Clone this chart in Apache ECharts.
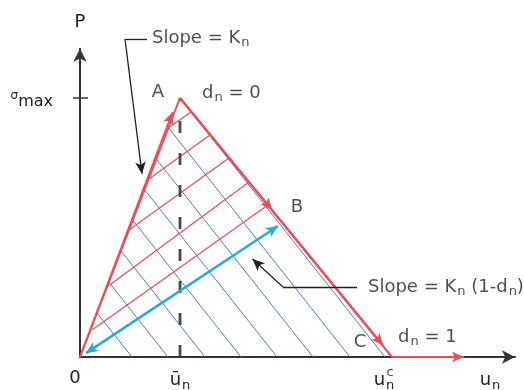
<!DOCTYPE html>
<html>
<head>
<meta charset="utf-8">
<script src="https://cdn.jsdelivr.net/npm/echarts@6/dist/echarts.min.js"></script>
<style>
html,body{margin:0;padding:0;background:#fff;}
#main{width:524px;height:390px;}
</style>
</head>
<body>
<div id="main"></div>
<script>
// traction-separation law (sigma_max = 1, u_n bar = 1)
var peakA = [1.0, 1.0];
var redEnd = [3.12, 0];
var pointB = [1.92, 0.568];
var failEnd = [3.84, 0];
var loadArrowTip = [0.925, 0.945];
var softenArrowTip = [3.03, 0.045];
var unloadStart = [1.98, 0.506];
var unloadEnd = [0.06, 0.015];

// blue hatch (parallel to softening branch): foot on the u axis, top on loading branch
var blueFoot = [0.52, 0.88, 1.25, 1.61, 1.97, 2.33, 2.70, 3.05];
var blueTop = [0.170, 0.289, 0.410, 0.528, 0.646, 0.764, 0.885, 1.0];

// red hatch (unloading lines): left end on loading branch, right end on softening branch
var redLeft = [[0.88, 0.884], [0.69, 0.687], [0.49, 0.49], [0.27, 0.27], [0.12, 0.104]];
var redRight = [[1.11, 0.946], [1.30, 0.857], [1.49, 0.768], [1.69, 0.676], [1.88, 0.587]];

// leaders for the two slope notes
var leader1 = [[0.67, 1.228], [0.45, 1.228], [0.62, 0.707]];
var leader2 = [[2.77, 0.27], [2.03, 0.27], [1.725, 0.378]];

var sigmaTick = [[-0.07, 1], [0.08, 1]];

var xTickValues = [0, 1, 3.04, 4.1];
var xTickLabels = ['{z|0}', '{i|ū}{s|n}', '{i|u}{s|n}', '{i|u}{s|n}'];

var noteText = ['{i|A}', '{i|d}{s|n}{i| = 0}', '{i|Slope = K}{s|n}', '{i|B}',
  '{i|Slope = K}{s|n}{i| (1-d}{s|n}{i|)}', '{i|C}', '{i|d}{s|n}{i| = 1}', '{c|c}'];
var notePos = [[0.78, 1.023], [1.22, 1.02], [0.72, 1.232], [2.17, 0.579],
  [2.88, 0.27], [2.80, 0.058], [3.18, 0.077], [3.10, -0.062]];
var noteAlign = ['center', 'left', 'left', 'center', 'left', 'center', 'left', 'center'];

var FONT = '"DejaVu Sans", Verdana, sans-serif';
var TXT = '#222';
var RED = '#ee4b55';

var rich = {
  i: {fontSize: 18, fontFamily: FONT, color: TXT},
  z: {fontSize: 18, fontFamily: FONT, color: TXT, padding: [0, 10, 0, 0]},
  s: {fontSize: 13, fontFamily: FONT, color: TXT, padding: [10, 0, 0, 1]},
  c: {fontSize: 13, fontFamily: FONT, color: TXT},
  sg: {fontSize: 12, fontFamily: FONT, color: TXT, padding: [0, 0, 4, 0]},
  mx: {fontSize: 16, fontFamily: FONT, color: TXT, padding: [8, 0, 0, 0]}
};

function seg(a, b) { return {coords: [a, b]}; }

var blueData = [];
for (var i = 0; i < blueFoot.length; i++) {
  blueData.push(seg([blueFoot[i], 0], [blueTop[i], blueTop[i]]));
}
var redHatchData = [];
for (var j = 0; j < redLeft.length; j++) {
  redHatchData.push(seg(redLeft[j], redRight[j]));
}

var arrowSize = [[8, 12], [8, 12]];

var myChart = echarts.init(document.getElementById('main'));
myChart.setOption({
  animation: false,
  backgroundColor: '#fff',
  grid: {left: 80, right: 9, top: 48.8, bottom: 33, containLabel: false, outerBoundsMode: 'none'},
  xAxis: {
    type: 'value', min: 0, max: 4.35,
    splitLine: {show: false},
    axisTick: {show: false},
    axisLine: {show: true, onZero: false, lineStyle: {color: '#333', width: 2},
      symbol: ['none', 'arrow'], symbolSize: [10, 13]},
    axisLabel: {
      customValues: xTickValues, margin: 12, rich: rich,
      formatter: function (v) { return xTickLabels[xTickValues.indexOf(v)] || ''; }
    }
  },
  yAxis: {
    type: 'value', min: 0, max: 1.19,
    name: 'P', nameLocation: 'end', nameGap: 17,
    nameTextStyle: {fontSize: 18, fontFamily: FONT, color: TXT},
    splitLine: {show: false},
    axisTick: {show: false},
    axisLine: {show: true, onZero: false, lineStyle: {color: '#333', width: 2},
      symbol: ['none', 'arrow'], symbolSize: [10, 13]},
    axisLabel: {
      customValues: [1], margin: 27, rich: rich,
      formatter: function (v) { return v === 1 ? '{sg|σ}{mx|max}' : ''; }
    }
  },
  series: [
    {
      type: 'lines', coordinateSystem: 'cartesian2d', clip: false, z: 2,
      lineStyle: {color: '#4a7bd0', width: 1, opacity: 1},
      data: blueData
    },
    {
      type: 'lines', coordinateSystem: 'cartesian2d', clip: false, z: 2,
      lineStyle: {color: RED, width: 1.2, opacity: 1},
      data: redHatchData
    },
    {
      type: 'line', z: 3, symbol: 'none', clip: false,
      lineStyle: {color: '#4a4a4a', width: 2.8, type: [12, 20]},
      data: [[peakA[0], 0], peakA]
    },
    {
      type: 'lines', coordinateSystem: 'cartesian2d', clip: false, z: 4,
      lineStyle: {color: RED, width: 2, opacity: 1},
      data: [seg([0, 0], peakA), seg(peakA, redEnd)]
    },
    {
      type: 'lines', coordinateSystem: 'cartesian2d', clip: false, z: 4,
      symbol: ['none', 'arrow'], symbolSize: arrowSize,
      lineStyle: {color: RED, width: 2, opacity: 1},
      data: [seg([0, 0], loadArrowTip), seg(peakA, pointB), seg(pointB, softenArrowTip), seg(redEnd, failEnd)]
    },
    {
      type: 'lines', coordinateSystem: 'cartesian2d', clip: false, z: 5,
      symbol: ['arrow', 'arrow'], symbolSize: arrowSize,
      lineStyle: {color: '#29a8e0', width: 2.5, opacity: 1},
      data: [seg(unloadStart, unloadEnd)]
    },
    {
      type: 'lines', coordinateSystem: 'cartesian2d', clip: false, z: 5,
      lineStyle: {color: '#222', width: 1.3, opacity: 1},
      data: [seg(leader1[0], leader1[1]), seg(leader2[0], leader2[1])]
    },
    {
      type: 'lines', coordinateSystem: 'cartesian2d', clip: false, z: 5,
      symbol: ['none', 'arrow'], symbolSize: arrowSize,
      lineStyle: {color: '#222', width: 1.3, opacity: 1},
      data: [seg(leader1[1], leader1[2]), seg(leader2[1], leader2[2])]
    },
    {
      type: 'lines', coordinateSystem: 'cartesian2d', clip: false, z: 5,
      lineStyle: {color: '#333', width: 1.5, opacity: 1},
      data: [seg(sigmaTick[0], sigmaTick[1])]
    },
    {
      type: 'scatter', clip: false, z: 6, symbolSize: 0, silent: true,
      data: notePos.map(function (p, k) {
        return {
          value: p,
          label: {show: true, position: [0, 0], align: noteAlign[k], verticalAlign: 'middle',
            rich: rich, formatter: function () { return noteText[k]; }}
        };
      })
    }
  ]
});
</script>
</body>
</html>
